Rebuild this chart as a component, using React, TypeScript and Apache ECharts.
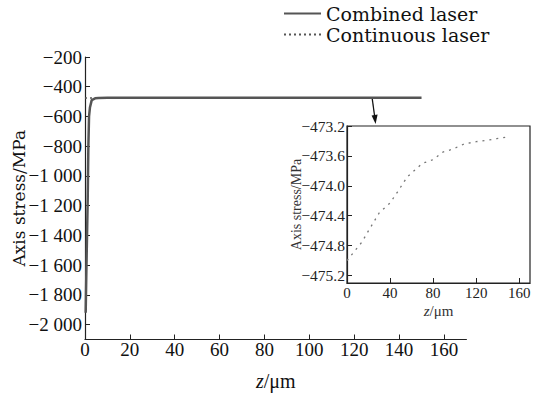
import React, { useEffect, useRef } from "react";
import * as echarts from "echarts";

// Combined laser (main chart): [z (μm), axial stress (MPa)]
const combinedZ = [0.3, 0.6, 1.2, 1.5, 1.8, 2.2, 3, 4.5, 6, 10, 20, 40, 60, 80, 100, 120, 150];
const combinedS = [-1920, -1650, -1160, -800, -600, -540, -490, -478, -475.5, -474.8, -474.6, -474.2, -473.9, -473.65, -473.5, -473.4, -473.35];

// Continuous laser (main + inset)
const contZ = [0, 14, 20, 30, 40, 47, 56, 70, 80, 89, 98, 109, 120, 130, 139, 148];
const contS = [-475.0, -474.75, -474.6, -474.36, -474.23, -474.08, -473.88, -473.7, -473.65, -473.55, -473.51, -473.44, -473.41, -473.39, -473.37, -473.35];

const mainXTicks = [0, 20, 40, 60, 80, 100, 120, 140, 160];
const mainYTicks = [-2000, -1800, -1600, -1400, -1200, -1000, -800, -600, -400, -200];
const insetXTicks = [0, 40, 80, 120, 160];
const insetYTicks = [-475.2, -474.8, -474.4, -474.0, -473.6, -473.2];

const legendNames = ["Combined laser", "Continuous laser"];

const fmtMain = (v: number) => {
  const a = Math.abs(v);
  let s = String(a);
  if (a >= 1000) s = s.slice(0, s.length - 3) + " " + s.slice(-3);
  return (v < 0 ? "\u2212" : "") + s;
};
const fmtInset = (v: number) => (v < 0 ? "\u2212" : "") + Math.abs(v).toFixed(1);

const SERIF = "'Liberation Serif', 'Times New Roman', serif";
const WIDE = "'DejaVu Serif', serif";
const TXT = "#111";
const AX = "#222";

export default function App() {
  const ref = useRef<HTMLDivElement>(null);
  useEffect(() => {
    if (!ref.current) return;
    const chart = echarts.init(ref.current, null, { renderer: "svg" });
    const combined = combinedZ.map((z, i) => [z, combinedS[i]]);
    const cont = contZ.map((z, i) => [z, contS[i]]);
    const axisLine = { show: true, lineStyle: { color: AX, width: 1.2 } };
    chart.setOption({
      animation: false,
      backgroundColor: "#fff",
      legend: {
        data: legendNames,
        orient: "vertical",
        left: 283,
        top: 4,
        padding: 0,
        itemWidth: 37,
        itemHeight: 14,
        itemGap: 2,
        itemStyle: { opacity: 0 },
        textStyle: { fontFamily: WIDE, fontSize: 19, color: TXT },
      },
      grid: [
        { left: 85, right: 67.6, top: 57, bottom: 54.5, containLabel: false, outerBoundsMode: "none" },
        { left: 347, right: 4, top: 126, bottom: 111, containLabel: false, outerBoundsMode: "none", show: true, borderColor: AX, borderWidth: 1.2, backgroundColor: "transparent" },
      ],
      xAxis: [
        {
          type: "value",
          gridIndex: 0,
          min: 0,
          max: 170,
          name: "{i|z}/μm",
          nameLocation: "middle",
          nameGap: 31,
          nameMoveOverlap: false,
          nameTextStyle: {
            fontFamily: SERIF, fontSize: 20, color: TXT,
            rich: { i: { fontFamily: SERIF, fontSize: 20, fontStyle: "italic", color: TXT } },
          },
          axisLine,
          axisTick: { show: true, inside: true, length: 5, customValues: mainXTicks, lineStyle: { color: AX } },
          axisLabel: { customValues: mainXTicks, fontFamily: SERIF, fontSize: 19, color: TXT, margin: 0 },
          splitLine: { show: false },
        },
        {
          type: "value",
          gridIndex: 1,
          min: 0,
          max: 170,
          name: "{i|z}/μm",
          nameLocation: "middle",
          nameGap: 20,
          nameMoveOverlap: false,
          nameTextStyle: {
            fontFamily: SERIF, fontSize: 15, color: "#333",
            rich: { i: { fontFamily: SERIF, fontSize: 15, fontStyle: "italic", color: "#333" } },
          },
          axisLine,
          axisTick: { show: true, inside: true, length: 5, customValues: insetXTicks, lineStyle: { color: AX } },
          axisLabel: { customValues: insetXTicks, fontFamily: SERIF, fontSize: 15, color: "#222", margin: 2 },
          splitLine: { show: false },
        },
      ],
      yAxis: [
        {
          type: "value",
          gridIndex: 0,
          min: -2100,
          max: -200,
          name: "Axis stress/MPa",
          nameLocation: "middle",
          nameGap: 58,
          nameMoveOverlap: false,
          nameTextStyle: { fontFamily: WIDE, fontSize: 17, color: TXT },
          axisLine,
          axisTick: { show: true, inside: true, length: 5, customValues: mainYTicks, lineStyle: { color: AX } },
          axisLabel: { customValues: mainYTicks, formatter: fmtMain, fontFamily: SERIF, fontSize: 19, color: TXT, margin: 3 },
          splitLine: { show: false },
        },
        {
          type: "value",
          gridIndex: 1,
          min: -475.3,
          max: -473.2,
          name: "Axis stress/MPa",
          nameLocation: "middle",
          nameGap: 44,
          nameMoveOverlap: false,
          nameTextStyle: { fontFamily: SERIF, fontSize: 14, color: "#333" },
          axisLine,
          axisTick: { show: true, inside: true, length: 5, customValues: insetYTicks, lineStyle: { color: AX } },
          axisLabel: { customValues: insetYTicks, formatter: fmtInset, fontFamily: SERIF, fontSize: 15.5, color: "#222", margin: 2 },
          splitLine: { show: false },
        },
      ],
      series: [
        {
          name: "Continuous laser",
          type: "line",
          xAxisIndex: 0,
          yAxisIndex: 0,
          data: cont,
          showSymbol: false,
          symbol: "none",
          lineStyle: { color: "#555", width: 1.5, type: [2, 3] },
          itemStyle: { color: "#555" },
          z: 2,
        },
        {
          name: "Combined laser",
          type: "line",
          xAxisIndex: 0,
          yAxisIndex: 0,
          data: combined,
          showSymbol: false,
          symbol: "none",
          lineStyle: { color: "#555", width: 2.5 },
          itemStyle: { color: "#555" },
          z: 3,
        },
        {
          name: "Continuous laser detail",
          type: "line",
          xAxisIndex: 1,
          yAxisIndex: 1,
          data: cont,
          showSymbol: false,
          symbol: "none",
          lineStyle: { color: "#777", width: 1.3, type: [2, 5] },
          itemStyle: { color: "#777" },
        },
      ],
      graphic: [
        {
          type: "line",
          shape: { x1: 372, y1: 97, x2: 374.6, y2: 116 },
          style: { stroke: "#111", lineWidth: 1.3 },
        },
        {
          type: "polygon",
          shape: { points: [[375.6, 124], [377.6, 114.6], [371.6, 115.4]] },
          style: { fill: "#111" },
        },
      ],
    });
    return () => chart.dispose();
  }, []);
  return <div ref={ref} style={{ position: "absolute", left: 0, top: 0, width: 534, height: 394 }} />;
}
